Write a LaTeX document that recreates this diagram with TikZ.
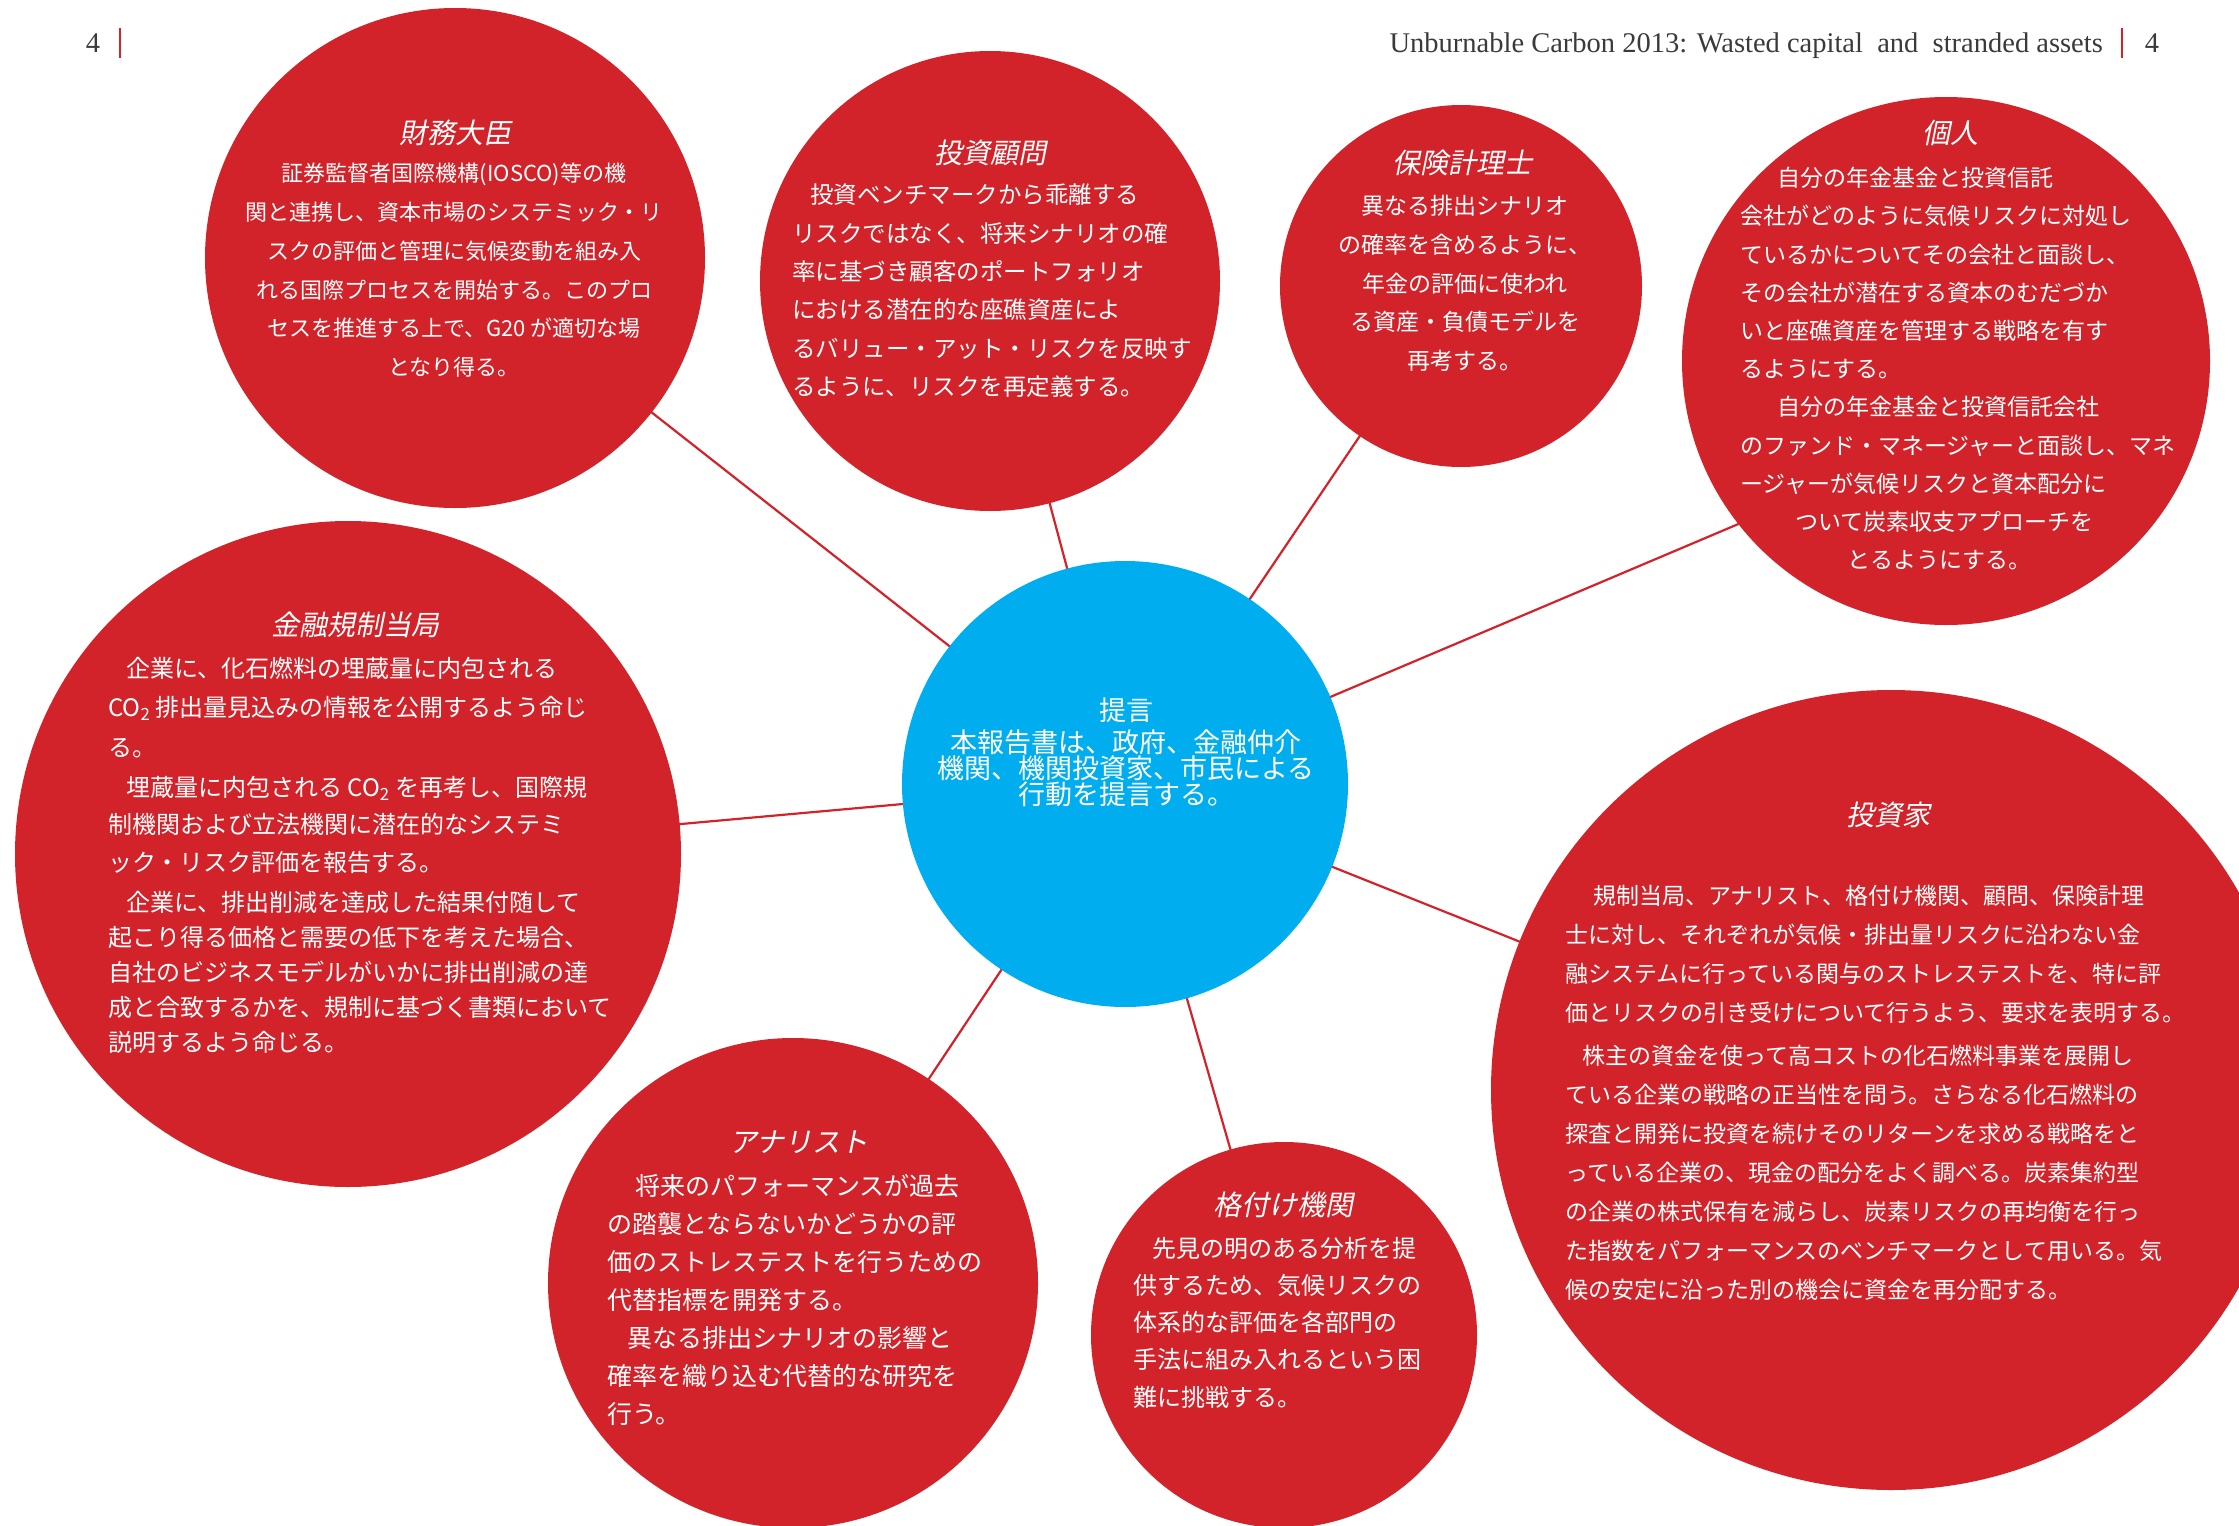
\documentclass[tikz,border=0pt]{standalone}
\usepackage{fontspec}
\setmainfont{Noto Sans CJK JP}
\newfontfamily\jpit{Noto Sans CJK JP}[FakeSlant=0.2]
\newfontfamily\hdrfont{Liberation Serif}
\usetikzlibrary{backgrounds}
\definecolor{cred}{HTML}{D2232A}
\definecolor{cblue}{HTML}{00AEEF}
\definecolor{hgray}{HTML}{3A3A3A}
\tikzset{
  bubble/.style={circle, fill=cred, inner sep=0pt, minimum size=#1},
  hub/.style={circle, fill=cblue, inner sep=0pt, minimum size=#1},
  conn/.style={draw=cred, line width=2.2pt},
  ttl/.style={text=white, inner sep=0pt, font=\jpit\fontsize{28}{28}\selectfont},
  bodyL/.style={text=white, inner sep=0pt, anchor=north west, align=left},
  bodyC/.style={text=white, inner sep=0pt, anchor=north, align=center},
  hdr/.style={text=hgray, inner sep=0pt, anchor=base, font=\hdrfont\fontsize{28.5}{28.5}\selectfont},
  sepbar/.style={draw=cred, line width=1.3pt},
}
\begin{document}
\begin{tikzpicture}[x=1pt,y=-1pt]
\useasboundingbox (0,0) rectangle (2239,1526);

% header
\node[hdr] (pgl) at (93,52) {4};
\draw[sepbar] (120,28) -- (120,58);
\node[hdr, anchor=base east] (htitle) at (2103,52) {Unburnable Carbon 2013: Wasted capital\ \ and\ \ stranded assets};
\draw[sepbar] (2122,28) -- (2122,58);
\node[hdr] (pgr) at (2152,52) {4};

% circles
\node[bubble=500] (c1) at (455,258) {};
\node[bubble=460] (c2) at (990,281) {};
\node[bubble=362] (c3) at (1461,286) {};
\node[bubble=528] (c4) at (1946,361) {};
\node[bubble=666] (c5) at (348,854) {};
\node[hub=446] (c6) at (1125,784) {};
\node[bubble=800] (c7) at (1891,1090) {};
\node[bubble=490] (c8) at (793,1283) {};
\node[bubble=386] (c9) at (1284,1335) {};
\coordinate (c4aim) at (1946,436);

\begin{pgfonlayer}{background}
\draw[conn] (c6.center) -- (c1.center);
\draw[conn] (c6.center) -- (c2.center);
\draw[conn] (c6.center) -- (c3.center);
\draw[conn] (c6.center) -- (c4aim);
\draw[conn] (c6.center) -- (c5.center);
\draw[conn] (c6.center) -- (c7.center);
\draw[conn] (c6.center) -- (c8.center);
\draw[conn] (c6.center) -- (c9.center);
\end{pgfonlayer}

% titles
\node[ttl] (t1) at (455,133) {財務大臣};
\node[ttl] (t2) at (990,153) {投資顧問};
\node[ttl] (t3) at (1462,163) {保険計理士};
\node[ttl] (t4) at (1950,133) {個人};
\node[ttl] (t5) at (355,625) {金融規制当局};
\node[ttl] (t7) at (1888,815) {投資家};
\node[ttl] (t8) at (799,1142) {アナリスト};
\node[ttl] (t9) at (1283,1205) {格付け機関};

% bodies
\node[bodyC, font=\fontsize{22}{38.8}\selectfont] (b1) at (454,163) {%
証券監督者国際機構(IOSCO)等の機\\
関と連携し、資本市場のシステミック・リ\\
スクの評価と管理に気候変動を組み入\\
れる国際プロセスを開始する。このプロ\\
セスを推進する上で、G20 が適切な場\\
となり得る。};

\node[bodyL, font=\fontsize{23.5}{38.3}\selectfont] (b2) at (792,184) {%
\hspace*{18pt}投資ベンチマークから乖離する\\
リスクではなく、将来シナリオの確\\
率に基づき顧客のポートフォリオ\\
における潜在的な座礁資産によ\\
るバリュー・アット・リスクを反映す\\
るように、リスクを再定義する。};

\node[bodyC, font=\fontsize{23}{38.8}\selectfont] (b3) at (1465,195) {%
異なる排出シナリオ\\
の確率を含めるように、\\
年金の評価に使われ\\
る資産・負債モデルを\\
再考する。};

\node[bodyL, font=\fontsize{23}{38.2}\selectfont] (b4) at (1740,167) {%
\hspace*{37pt}自分の年金基金と投資信託\\
会社がどのように気候リスクに対処し\\
ているかについてその会社と面談し、\\
その会社が潜在する資本のむだづか\\
いと座礁資産を管理する戦略を有す\\
るようにする。\\
\hspace*{37pt}自分の年金基金と投資信託会社\\
のファンド・マネージャーと面談し、マネ\\
ージャーが気候リスクと資本配分に\\
\hspace*{55pt}ついて炭素収支アプローチを\\
\hspace*{107pt}とるようにする。};

\node[bodyL, font=\fontsize{24}{35}\selectfont] (b5) at (108,657) {%
\hspace*{18pt}企業に、化石燃料の埋蔵量に内包される\\[4.5pt]
CO\textsubscript{2} 排出量見込みの情報を公開するよう命じ\\[4.5pt]
る。\\[5pt]
\hspace*{18pt}埋蔵量に内包される CO\textsubscript{2} を再考し、国際規\\[2.5pt]
制機関および立法機関に潜在的なシステミ\\[2.5pt]
ック・リスク評価を報告する。\\[5pt]
\hspace*{18pt}企業に、排出削減を達成した結果付随して\\
起こり得る価格と需要の低下を考えた場合、\\
自社のビジネスモデルがいかに排出削減の達\\
成と合致するかを、規制に基づく書類において\\
説明するよう命じる。};

\node[bodyC, font=\fontsize{27}{26}\selectfont] (b6) at (1126,698) {%
提言\\[6pt]
本報告書は、政府、金融仲介\\
機関、機関投資家、市民による\\
行動を提言する。};

\node[bodyL, font=\fontsize{23}{39}\selectfont] (b7) at (1565,885) {%
\hspace*{28pt}規制当局、アナリスト、格付け機関、顧問、保険計理\\
士に対し、それぞれが気候・排出量リスクに沿わない金\\
融システムに行っている関与のストレステストを、特に評\\
価とリスクの引き受けについて行うよう、要求を表明する。\\[4pt]
\hspace*{17pt}株主の資金を使って高コストの化石燃料事業を展開し\\
ている企業の戦略の正当性を問う。さらなる化石燃料の\\
探査と開発に投資を続けそのリターンを求める戦略をと\\
っている企業の、現金の配分をよく調べる。炭素集約型\\
の企業の株式保有を減らし、炭素リスクの再均衡を行っ\\
た指数をパフォーマンスのベンチマークとして用いる。気\\
候の安定に沿った別の機会に資金を再分配する。};

\node[bodyL, font=\fontsize{25}{38}\selectfont] (b8) at (607,1174) {%
\hspace*{28pt}将来のパフォーマンスが過去\\
の踏襲とならないかどうかの評\\
価のストレステストを行うための\\
代替指標を開発する。\\
\hspace*{20pt}異なる排出シナリオの影響と\\
確率を織り込む代替的な研究を\\
行う。};

\node[bodyL, font=\fontsize{24}{37.2}\selectfont] (b9) at (1133,1237) {%
\hspace*{19pt}先見の明のある分析を提\\
供するため、気候リスクの\\
体系的な評価を各部門の\\
手法に組み入れるという困\\
難に挑戦する。};
\end{tikzpicture}
\end{document}
